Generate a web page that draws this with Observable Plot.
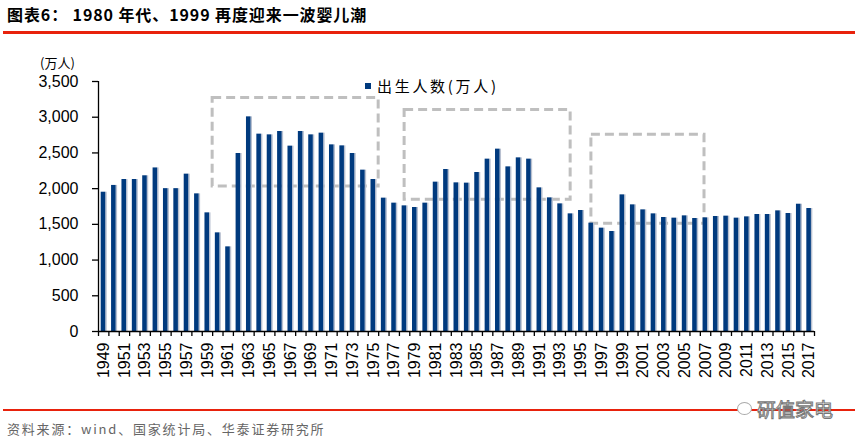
<!DOCTYPE html>
<html>
<head>
<meta charset="utf-8">
<script src="https://cdn.jsdelivr.net/npm/d3@7"></script>
<script src="https://cdn.jsdelivr.net/npm/@observablehq/plot@0.6"></script>
<style>
  html, body { margin: 0; padding: 0; background: #fff; }
  body { width: 868px; height: 448px; position: relative; overflow: hidden; font-family: "Liberation Sans", Arial, sans-serif; }
  .abs { position: absolute; }
  #title { left: 7px; top: 5px; font: bold 16px "Noto Sans CJK SC", sans-serif; letter-spacing: 0.9px; color: #000; line-height: 18px; white-space: nowrap; }
  #redTop { left: 3px; top: 31px; width: 852px; height: 3px; background: #e8220c; }
  #chart { left: 0; top: 40px; }
  #unit { left: 40px; top: 56px; font: 13px "Noto Sans CJK SC", sans-serif; color: #000; line-height: 14px; }
  #legend { left: 365px; top: 78px; font: 15px "Noto Sans CJK SC", sans-serif; color: #000; line-height: 16px; white-space: nowrap; display: flex; align-items: center; letter-spacing: 2.7px; }
  #legend i { display: inline-block; width: 6px; height: 6px; background: #003a7e; margin-right: 6px; }
  #redBottom { left: 3px; top: 409px; width: 852px; height: 2px; background: #e8220c; }
  #caption { left: 7px; top: 421px; font: 13px "Noto Sans CJK SC", sans-serif; color: #666; line-height: 16px; white-space: nowrap; letter-spacing: 1.8px; }
  #mark { left: 757px; top: 398px; font: 19px "Noto Sans CJK SC", sans-serif; color: #fff; -webkit-text-stroke: 1px #777; line-height: 22px; white-space: nowrap; }
  #icon { left: 737px; top: 402px; width: 13px; height: 11px; border: 1.5px solid #aaa; border-radius: 50%; background: #fff; }
</style>
</head>
<body>
<div id="title" class="abs">图表6： 1980 年代、1999 再度迎来一波婴儿潮</div>
<div id="redTop" class="abs"></div>
<div id="chart" class="abs"></div>
<div id="unit" class="abs">(万人)</div>
<div id="legend" class="abs"><i></i>出生人数(万人)</div>
<div id="redBottom" class="abs"></div>
<div id="caption" class="abs">资料来源：wind、国家统计局、华泰证券研究所</div>
<div id="icon" class="abs"></div>
<div id="mark" class="abs">研值家电</div>
<script>
const years = [1949,1950,1951,1952,1953,1954,1955,1956,1957,1958,1959,1960,1961,1962,1963,1964,1965,1966,1967,1968,1969,1970,1971,1972,1973,1974,1975,1976,1977,1978,1979,1980,1981,1982,1983,1984,1985,1986,1987,1988,1989,1990,1991,1992,1993,1994,1995,1996,1997,1998,1999,2000,2001,2002,2003,2004,2005,2006,2007,2008,2009,2010,2011,2012,2013,2014,2015,2016,2017];
const births = [1950,2045,2128,2128,2180,2290,2000,2000,2203,1927,1661,1381,1185,2492,3005,2763,2753,2800,2595,2800,2753,2777,2613,2599,2492,2259,2128,1867,1797,1759,1736,1797,2091,2268,2081,2077,2226,2413,2553,2305,2431,2413,2011,1871,1787,1647,1694,1517,1447,1400,1913,1773,1703,1647,1596,1587,1619,1582,1591,1610,1615,1587,1605,1638,1638,1689,1652,1782,1722];
const yTicks = [0,500,1000,1500,2000,2500,3000,3500];
const labelYears = years.filter((y, i) => i % 2 === 0);
// highlighted periods (dashed boxes): year span and value span
const boxX1 = [1959.5, 1978, 1996];
const boxX2 = [1975.5, 1994, 2006.9];
const boxY1 = [2030, 1845, 1507];
const boxY2 = [3270, 3100, 2753];

const table = years.map((year, i) => ({year, births: births[i]}));
const boxes = boxX1.map((x1, i) => ({x1, x2: boxX2[i], y1: boxY1[i], y2: boxY2[i]}));
const x0 = years[0] - 0.5, xN = years[years.length - 1] + 0.5;
const bounds = d3.range(x0, xN + 0.01, 1);

const chart = Plot.plot({
  width: 868,
  height: 360,
  marginLeft: 98,
  marginRight: 54,
  marginTop: 41,
  marginBottom: 69,
  x: {type: "linear", domain: [x0, xN]},
  y: {domain: [0, 3500]},
  style: {fontFamily: "'Liberation Sans', Arial, sans-serif", fontSize: "16px", color: "#000", background: "transparent", overflow: "visible"},
  marks: [
    Plot.rect(boxes, {x1: "x1", x2: "x2", y1: "y1", y2: "y2", fill: "none", stroke: "#bfbfbf", strokeWidth: 3, strokeDasharray: "9,5"}),
    Plot.rectY(table, {x1: d => d.year + 0.2, x2: d => d.year + 0.34, y: "births", fill: "#b8c0d0"}),
    Plot.rectY(table, {x1: d => d.year - 0.24, x2: d => d.year + 0.2, y: "births", fill: "#003a7e"}),
    Plot.ruleY([0], {stroke: "#000", strokeWidth: 1.3}),
    Plot.ruleX([x0], {stroke: "#000", strokeWidth: 1.3}),
    Plot.axisY({ticks: yTicks, tickSize: 6, tickPadding: 14, tickFormat: d3.format(","), label: null, strokeWidth: 1.3}),
    Plot.axisX({ticks: bounds, tickSize: 5, tickFormat: () => "", label: null, strokeWidth: 1.3}),
    Plot.axisX({ticks: labelYears, tickSize: 0, tickPadding: 11, tickRotate: -90, tickFormat: d => String(d), label: null})
  ]
});
document.getElementById("chart").appendChild(chart);
</script>
</body>
</html>
